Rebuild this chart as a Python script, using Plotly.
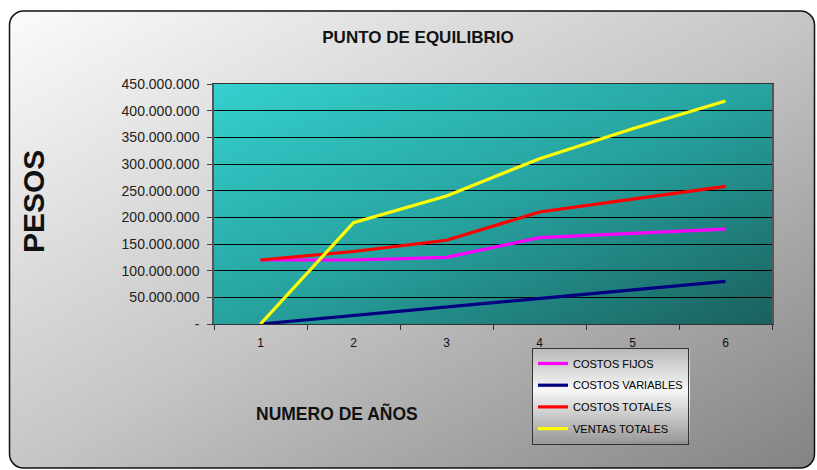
import base64
import plotly.graph_objects as go

# Years on the horizontal axis
years = ["1", "2", "3", "4", "5", "6"]

# Series values in pesos
costos_fijos = [120_000_000, 120_000_000, 125_000_000, 162_000_000, 170_000_000, 178_000_000]
costos_variables = [0, 16_000_000, 32_000_000, 48_000_000, 64_000_000, 80_000_000]
costos_totales = [120_000_000, 136_000_000, 157_000_000, 210_000_000, 234_000_000, 258_000_000]
ventas_totales = [0, 190_000_000, 240_000_000, 310_000_000, 366_000_000, 418_000_000]

# Y tick values and their labels
y_tickvals = [0, 50_000_000, 100_000_000, 150_000_000, 200_000_000,
              250_000_000, 300_000_000, 350_000_000, 400_000_000, 450_000_000]
y_ticktext = ["-", "50.000.000", "100.000.000", "150.000.000", "200.000.000",
              "250.000.000", "300.000.000", "350.000.000", "400.000.000", "450.000.000"]

series = [
    ("COSTOS FIJOS", costos_fijos, "#FF00FF"),
    ("COSTOS VARIABLES", costos_variables, "#000080"),
    ("COSTOS TOTALES", costos_totales, "#FF0000"),
    ("VENTAS TOTALES", ventas_totales, "#FFFF00"),
]

W, H = 817, 470
L, R, T, B = 214, 45, 84, 146
PW, PH = W - L - R, H - T - B

FONT = "Liberation Sans, Arial, sans-serif"

# Legend box placement (pixels)
LEG_X, LEG_Y, LEG_W, LEG_H = 532, 348, 158, 93


def svg_uri(svg):
    return "data:image/svg+xml;base64," + base64.b64encode(svg.encode()).decode()


frame_svg = f"""<svg xmlns="http://www.w3.org/2000/svg" width="{W}" height="{H}" viewBox="0 0 {W} {H}" preserveAspectRatio="none">
<defs><linearGradient id="g" x1="0" y1="0" x2="1" y2="1">
<stop offset="0" stop-color="#fbfbfb"/><stop offset="0.5" stop-color="#c6c6c6"/><stop offset="1" stop-color="#838383"/>
</linearGradient></defs>
<rect x="0" y="0" width="{W}" height="{H}" fill="#ffffff"/>
<rect x="9.5" y="11" width="805" height="457" rx="14" ry="14" fill="url(#g)" stroke="#111111" stroke-width="1.5"/>
</svg>"""

plot_svg = f"""<svg xmlns="http://www.w3.org/2000/svg" width="{PW}" height="{PH}" viewBox="0 0 {PW} {PH}" preserveAspectRatio="none">
<defs><linearGradient id="p" x1="0" y1="0" x2="1" y2="1">
<stop offset="0" stop-color="#35D0CE"/><stop offset="0.5" stop-color="#27A3A0"/><stop offset="1" stop-color="#1A605D"/>
</linearGradient></defs>
<rect x="0" y="0" width="{PW}" height="{PH}" fill="url(#p)"/>
</svg>"""

legend_svg = f"""<svg xmlns="http://www.w3.org/2000/svg" width="{LEG_W}" height="{LEG_H}" viewBox="0 0 {LEG_W} {LEG_H}" preserveAspectRatio="none">
<defs><linearGradient id="l" x1="0" y1="0" x2="0" y2="1">
<stop offset="0" stop-color="#b8b8b8"/><stop offset="0.45" stop-color="#f7f7f7"/><stop offset="1" stop-color="#9c9c9c"/>
</linearGradient></defs>
<rect x="0" y="0" width="{LEG_W}" height="{LEG_H}" fill="url(#l)"/>
</svg>"""


def px_x(px):
    return (px - L) / PW


def px_y(py):
    return (H - B - py) / PH


fig = go.Figure()
for i, (name, vals, color) in enumerate(series):
    fig.add_trace(go.Scatter(
        x=years, y=vals, name=name, mode="lines",
        line=dict(color=color, width=3.2),
        legendgroup=f"g{i}",
    ))

fig.update_layout(
    width=W, height=H,
    margin=dict(l=L, r=R, t=T, b=B, autoexpand=False),
    paper_bgcolor="rgba(0,0,0,0)",
    plot_bgcolor="rgba(0,0,0,0)",
    font=dict(family=FONT, color="#111111"),
    title=dict(
        text="PUNTO DE EQUILIBRIO",
        x=418 / W, xanchor="center", xref="container",
        y=1 - 37 / H, yanchor="middle", yref="container",
        font=dict(size=17, weight="bold", color="#111111", family=FONT),
    ),
    xaxis=dict(
        type="category", range=[-0.5, 5.5], tickson="boundaries",
        showgrid=False, zeroline=False,
        showline=True, linecolor="#333333", linewidth=1, mirror=True,
        ticks="outside", ticklen=5, tickcolor="#333333",
        tickfont=dict(size=12, color="#111111", family=FONT),
        ticklabelstandoff=8,
        fixedrange=True,
    ),
    yaxis=dict(
        range=[0, 450_000_000],
        tickvals=y_tickvals, ticktext=y_ticktext,
        showgrid=True, gridcolor="#000000", gridwidth=1,
        zeroline=False,
        showline=True, linecolor="#555555", linewidth=1.5, mirror=True,
        ticks="outside", ticklen=5, tickcolor="#444444",
        tickfont=dict(size=14, color="#222222", family=FONT),
        ticklabelstandoff=5,
        fixedrange=True,
    ),
    legend=dict(
        x=px_x(LEG_X), y=px_y(LEG_Y), xanchor="left", yanchor="top",
        bgcolor="rgba(0,0,0,0)", bordercolor="#333333", borderwidth=1,
        font=dict(size=11, color="#000000", family=FONT),
        traceorder="grouped", tracegroupgap=2.7, itemwidth=30,
    ),
    showlegend=True,
)

fig.add_layout_image(dict(
    source=svg_uri(frame_svg), xref="paper", yref="paper",
    x=px_x(0), y=px_y(0), sizex=W / PW, sizey=H / PH,
    xanchor="left", yanchor="top", sizing="stretch", layer="below",
))
fig.add_layout_image(dict(
    source=svg_uri(plot_svg), xref="paper", yref="paper",
    x=0, y=1, sizex=1, sizey=1,
    xanchor="left", yanchor="top", sizing="stretch", layer="below",
))
fig.add_layout_image(dict(
    source=svg_uri(legend_svg), xref="paper", yref="paper",
    x=px_x(LEG_X), y=px_y(LEG_Y), sizex=LEG_W / PW, sizey=LEG_H / PH,
    xanchor="left", yanchor="top", sizing="stretch", layer="below",
))

fig.add_annotation(
    text="NUMERO DE AÑOS", xref="paper", yref="paper",
    x=px_x(337), y=px_y(413), xanchor="center", yanchor="middle",
    showarrow=False, font=dict(size=17.5, weight="bold", color="#111111", family=FONT),
)
fig.add_annotation(
    text="PESOS", xref="paper", yref="paper",
    x=px_x(33), y=px_y(202), xanchor="center", yanchor="middle",
    textangle=-90, showarrow=False,
    font=dict(size=30, weight="bold", color="#111111", family=FONT),
)

fig.write_html("out.html")
